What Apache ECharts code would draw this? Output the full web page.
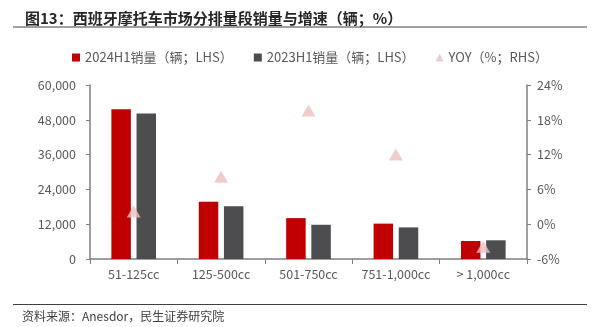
<!DOCTYPE html>
<html><head><meta charset="utf-8">
<script src="https://cdn.jsdelivr.net/npm/echarts@6/dist/echarts.min.js"></script>
<style>html,body{margin:0;padding:0;background:#fff}#c{width:604px;height:327px}</style>
</head><body><div id="c"></div>
<script>
const categories = ['51-125cc', '125-500cc', '501-750cc', '751-1,000cc', '> 1,000cc'];
const sales2024 = [51600, 19700, 14100, 12200, 6200];
const sales2023 = [50200, 18200, 11800, 10900, 6450];
const yoy = [2.2, 8.2, 19.6, 12.0, -3.9];
const leftTicks = [0, 12000, 24000, 36000, 48000, 60000];
const rightTicks = [-6, 0, 6, 12, 18, 24];

const FONT = '"Noto Sans CJK SC", "Noto Sans", sans-serif';
const chart = echarts.init(document.getElementById('c'), null, {renderer: 'canvas'});
const axisColor = '#7f7f7f';
const labelColor = '#595959';
chart.setOption({
  animation: false,
  textStyle: {fontFamily: FONT},
  title: {
    text: '图13：西班牙摩托车市场分排量段销量与增速（辆；%）',
    left: 20, top: 6,
    textStyle: {fontFamily: FONT, fontSize: 15, fontWeight: 'bold', color: '#262626'}
  },
  graphic: [
    {type: 'line', shape: {x1: 13, y1: 27, x2: 587, y2: 27}, style: {stroke: '#404040', lineWidth: 1.2}},
    {type: 'line', shape: {x1: 13, y1: 304.5, x2: 587, y2: 304.5}, style: {stroke: '#404040', lineWidth: 1.2}},
    {type: 'text', left: 22, top: 310, style: {text: '资料来源：Anesdor，民生证券研究院', font: '12px ' + FONT, fill: '#404040'}}
  ],
  legend: {
    top: 46, left: 67,
    itemWidth: 8, itemHeight: 8, itemGap: 21,
    textStyle: {fontFamily: FONT, fontSize: 13, color: labelColor},
    data: [
      {name: '2024H1销量（辆；LHS）', icon: 'rect'},
      {name: '2023H1销量（辆；LHS）', icon: 'rect'},
      {name: 'YOY（%；RHS）', icon: 'triangle'}
    ]
  },
  grid: {left: 90, right: 77, top: 85, bottom: 68, containLabel: false},
  xAxis: {
    type: 'category', data: categories,
    axisLine: {lineStyle: {color: axisColor, width: 1.5}},
    axisTick: {show: true, alignWithLabel: false, length: 5, lineStyle: {color: axisColor}},
    axisLabel: {color: labelColor, fontSize: 12.5, fontFamily: FONT, margin: 9, interval: 0}
  },
  yAxis: [
    {
      type: 'value', min: 0, max: 60000, interval: 12000,
      axisLine: {show: true, lineStyle: {color: axisColor, width: 1.5}},
      axisTick: {show: true, length: 4, lineStyle: {color: axisColor}},
      splitLine: {show: false},
      axisLabel: {color: labelColor, fontSize: 12.5, fontFamily: FONT, margin: 14,
        formatter: v => v.toLocaleString('en-US')}
    },
    {
      type: 'value', min: -6, max: 24, interval: 6,
      axisLine: {show: true, lineStyle: {color: axisColor, width: 1.5}},
      axisTick: {show: true, length: 4, lineStyle: {color: axisColor}},
      splitLine: {show: false},
      axisLabel: {color: labelColor, fontSize: 12.5, fontFamily: FONT, margin: 10,
        formatter: v => v + '%'}
    }
  ],
  series: [
    {name: '2024H1销量（辆；LHS）', type: 'bar', data: sales2024, barWidth: 19.5, barGap: '29%',
      itemStyle: {color: '#C00000'}},
    {name: '2023H1销量（辆；LHS）', type: 'bar', data: sales2023, barWidth: 19.5,
      itemStyle: {color: '#4D4D4F'}},
    {name: 'YOY（%；RHS）', type: 'scatter', yAxisIndex: 1, data: yoy,
      symbol: 'triangle', symbolSize: [14, 12],
      itemStyle: {color: '#EBC0C0'}, z: 5}
  ]
});
</script></body></html>
